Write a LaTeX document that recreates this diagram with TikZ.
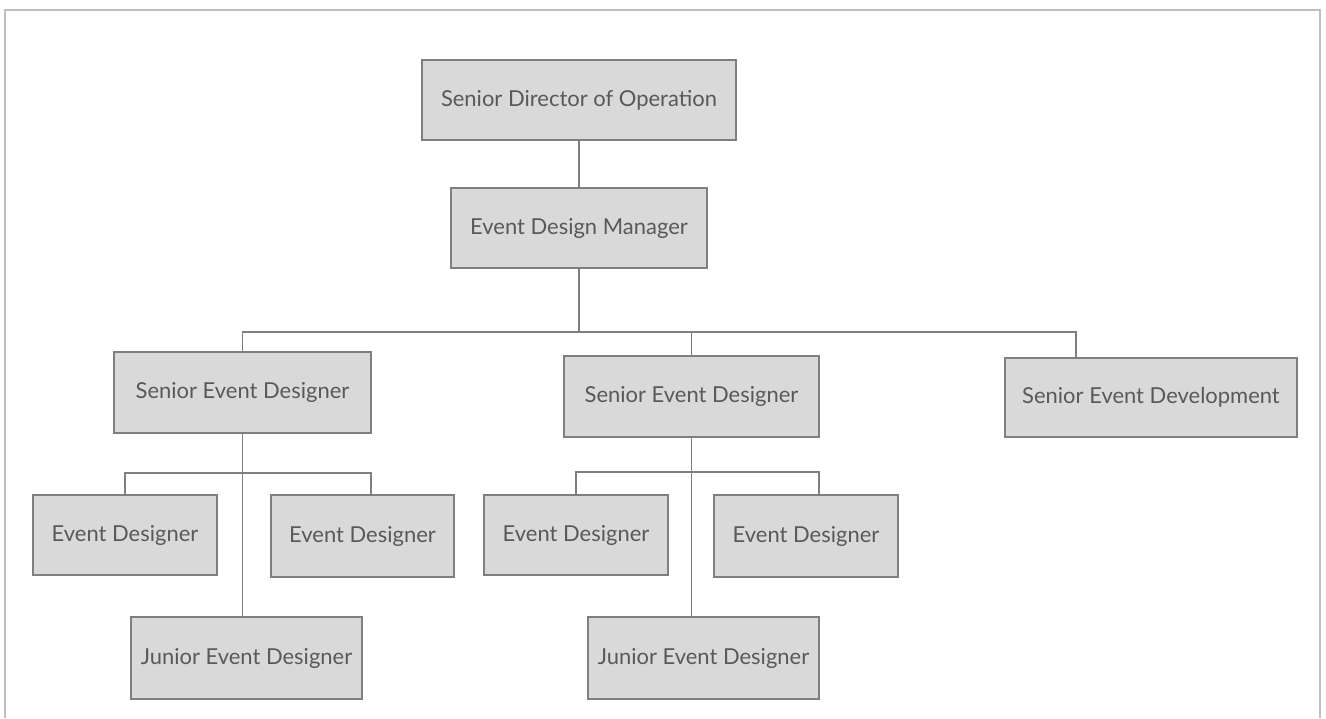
\documentclass[tikz,border=0pt]{standalone}
\usepackage{fontspec}
\setsansfont{Lato}
\definecolor{boxfill}{HTML}{D9D9D9}
\definecolor{boxline}{HTML}{7F7F7F}
\definecolor{textgray}{HTML}{595959}
\definecolor{framegray}{HTML}{BFBFBF}
\def\px{0.02cm}
\tikzset{
  rolebox/.style={draw=boxline, fill=boxfill, line width=1.5*\px, text=textgray,
    inner sep=0pt, font=\sffamily\fontsize{12.5}{15}\selectfont},
  link/.style={draw=boxline, line width=1.5*\px}
}
\begin{document}
\begin{tikzpicture}[x=\px, y=-\px]
  \useasboundingbox (0,0) rectangle (1326,718);

  % =======================================================
  % FRAME (open at the bottom)
  % =======================================================
  \draw[framegray, line width=2*\px] (5,718) -- (5,10) -- (1320,10) -- (1320,718);

  % =======================================================
  % 1. Top of the chart
  % =======================================================
  \node[rolebox, minimum width=314*\px, minimum height=80*\px] (sdo) at (579,100) {Senior Director of Operation};
  \node[rolebox, minimum width=256*\px, minimum height=80*\px] (edm) at (579,228) {Event Design Manager};

  % =======================================================
  % 2. Senior level
  % =======================================================
  \node[rolebox, minimum width=257*\px, minimum height=81*\px] (sed1) at (242.5,392.5) {Senior Event Designer};
  \node[rolebox, minimum width=255*\px, minimum height=81*\px] (sed2) at (691.5,396.5) {Senior Event Designer};
  \node[rolebox, minimum width=292*\px, minimum height=79*\px] (sedev) at (1151,397.5) {Senior Event Development};

  % =======================================================
  % 3. Designers under each senior
  % =======================================================
  \node[rolebox, minimum width=184*\px, minimum height=80*\px] (ed1) at (125,535) {Event Designer};
  \node[rolebox, minimum width=183*\px, minimum height=82*\px] (ed2) at (362.5,536) {Event Designer};
  \node[rolebox, minimum width=231*\px, minimum height=82*\px] (jr1) at (246.5,658) {Junior Event Designer};

  \node[rolebox, minimum width=184*\px, minimum height=80*\px] (ed3) at (576,535) {Event Designer};
  \node[rolebox, minimum width=184*\px, minimum height=82*\px] (ed4) at (806,536) {Event Designer};
  \node[rolebox, minimum width=231*\px, minimum height=82*\px] (jr2) at (703.5,658) {Junior Event Designer};

  % =======================================================
  % CONNECTORS
  % =======================================================
  \coordinate (bus) at (0,332);
  \coordinate (bar1) at (0,473);
  \coordinate (bar2) at (0,472);
  \coordinate (devtop) at ([xshift=-75*\px]sedev.north);
  \coordinate (ed2top) at ([xshift=8.5*\px]ed2.north);
  \coordinate (ed4top) at ([xshift=13*\px]ed4.north);

  \draw[link] (sdo.south) -- (edm.north);
  \draw[link] (edm.south) -- (edm.south |- bus);
  \draw[link] (sed1.north) -- (sed1.north |- bus) -- (devtop |- bus) -- (devtop);
  \draw[link] (sed2.north) -- (sed2.north |- bus);

  % left group
  \draw[link] (sed1.south) -- (sed1.south |- jr1.north);
  \draw[link] (ed1.north) -- (ed1.north |- bar1) -- (ed2top |- bar1) -- (ed2top);

  % middle group
  \draw[link] (sed2.south) -- (sed2.south |- jr2.north);
  \draw[link] (ed3.north) -- (ed3.north |- bar2) -- (ed4top |- bar2) -- (ed4top);

\end{tikzpicture}
\end{document}
